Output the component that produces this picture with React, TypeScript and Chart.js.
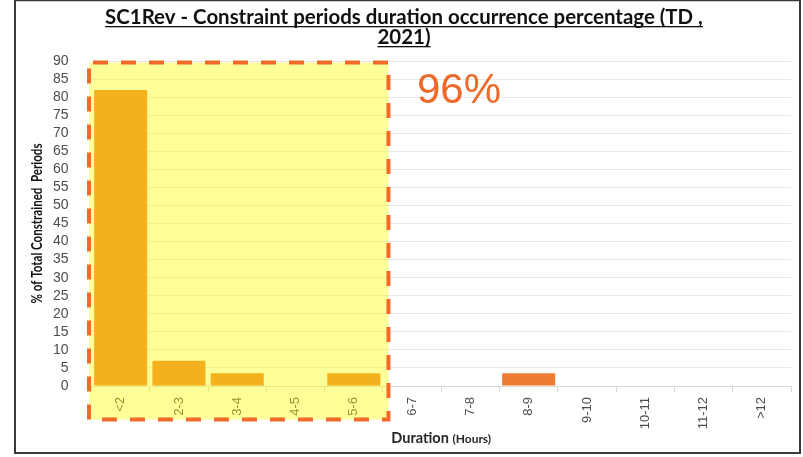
import React, { useEffect, useRef } from "react";
import { Chart, registerables } from "chart.js";

Chart.register(...registerables);

const categories = ["<2", "2-3", "3-4", "4-5", "5-6", "6-7", "7-8", "8-9", "9-10", "10-11", "11-12", ">12"];
const occurrencePct = [82, 7, 3.5, 0, 3.5, 0, 0, 3.5, 0, 0, 0, 0];
const yTicks = [0, 90, 5];
const titleLines = ["SC1Rev - Constraint periods duration occurrence percentage (TD ,", "2021)"];
const yTitle = "% of Total Constrained  Periods";
const xTitleMain = "Duration ";
const xTitleUnit = "(Hours)";
const highlightLabel = "96%";
const highlightCount = 5;

function fitFont(ctx: CanvasRenderingContext2D, text: string, family: string, weight: string, width: number) {
  ctx.font = `${weight} 100px ${family}`;
  const w = ctx.measureText(text).width;
  return (100 * width) / w;
}

const overlayPlugin = {
  id: "overlay",
  afterDraw(chart: any) {
    const ctx: CanvasRenderingContext2D = chart.ctx;
    const xs = chart.scales.x;
    const ca = chart.chartArea;
    ctx.save();
    // frame
    ctx.strokeStyle = "#3a3a3a";
    ctx.lineWidth = 2;
    ctx.beginPath();
    ctx.moveTo(15, 0);
    ctx.lineTo(15, 453);
    ctx.lineTo(800, 453);
    ctx.lineTo(800, 0);
    ctx.stroke();
    ctx.lineWidth = 1.5;
    ctx.beginPath();
    ctx.moveTo(15, 0.5);
    ctx.lineTo(800, 0.5);
    ctx.stroke();

    // title
    const fam = "Lato, 'Open Sans', sans-serif";
    const fs = fitFont(ctx, titleLines[0], fam, "bold", 598);
    ctx.font = `bold ${fs}px ${fam}`;
    ctx.fillStyle = "#111";
    ctx.textAlign = "center";
    ctx.textBaseline = "alphabetic";
    const cx = 404;
    const bases = [24, 44];
    titleLines.forEach((t, i) => {
      ctx.fillText(t, cx, bases[i]);
      const w = ctx.measureText(t).width;
      ctx.fillRect(cx - w / 2, bases[i] + 2, w, 1.3);
    });

    // y title
    ctx.save();
    ctx.translate(37, (ca.top + ca.bottom) / 2);
    ctx.rotate(-Math.PI / 2);
    ctx.font = `bold 15px ${fam}`;
    const tw = ctx.measureText(yTitle).width;
    ctx.scale(160 / tw, 1);
    ctx.textBaseline = "middle";
    ctx.textAlign = "center";
    ctx.fillStyle = "#111";
    ctx.fillText(yTitle, 0, 0);
    ctx.restore();

    // x title
    ctx.textBaseline = "alphabetic";
    ctx.textAlign = "left";
    ctx.font = `bold 14.5px ${fam}`;
    const w1 = ctx.measureText(xTitleMain).width;
    ctx.font = `bold 12px ${fam}`;
    const w2 = ctx.measureText(xTitleUnit).width;
    const sx = (ca.left + ca.right) / 2 - (w1 + w2) / 2;
    ctx.fillStyle = "#262626";
    ctx.font = `bold 14.5px ${fam}`;
    ctx.fillText(xTitleMain, sx, 443);
    ctx.font = `bold 12px ${fam}`;
    ctx.fillText(xTitleUnit, sx + w1, 443);

    // highlight box
    const left = ca.left - 2.5;
    const right = xs.getPixelForValue(highlightCount - 1) + (xs.getPixelForValue(1) - xs.getPixelForValue(0)) / 2 + 5.5;
    const top = ca.top + 1.5;
    const bottom = 419.5;
    ctx.fillStyle = "rgba(255,255,0,0.4)";
    ctx.fillRect(left, top, right - left, bottom - top);
    ctx.strokeStyle = "#F2692A";
    ctx.lineWidth = 4;
    ctx.setLineDash([15, 13]);
    ctx.lineDashOffset = -4;
    ctx.strokeRect(left, top, right - left, bottom - top);
    ctx.setLineDash([]);

    // 96%
    ctx.fillStyle = "#EE6A2A";
    ctx.font = `42px 'Liberation Sans', Arial, sans-serif`;
    ctx.textAlign = "left";
    ctx.fillText(highlightLabel, 417, 103);
    ctx.restore();
  },
};

export default function App() {
  const ref = useRef<HTMLCanvasElement>(null);
  useEffect(() => {
    document.body.style.margin = "0";
    const chart = new Chart(ref.current!, {
      type: "bar",
      data: {
        labels: categories,
        datasets: [
          {
            data: occurrencePct,
            backgroundColor: "#ED7D31",
            barPercentage: 0.91,
            categoryPercentage: 1,
          },
        ],
      },
      options: {
        responsive: false,
        animation: false,
        layout: { padding: { top: 61, left: 0, right: 12, bottom: 0 } },
        plugins: { legend: { display: false }, tooltip: { enabled: false }, title: { display: false } },
        scales: {
          x: {
            afterFit: (s: any) => {
              s.height = 71;
            },
            grid: { drawOnChartArea: false, drawTicks: true, tickLength: 6, color: "#d9d9d9", offset: true },
            border: { color: "#d9d9d9" },
            ticks: {
              minRotation: 90,
              maxRotation: 90,
              padding: 5,
              color: "#4d4d4d",
              font: { family: "'Liberation Sans', Arial, sans-serif", size: 13 },
              autoSkip: false,
            },
          },
          y: {
            min: yTicks[0],
            max: yTicks[1],
            afterFit: (s: any) => {
              s.width = 91.5;
            },
            grid: { color: "#e8e8e8", drawTicks: false },
            border: { display: false },
            ticks: {
              stepSize: yTicks[2],
              autoSkip: false,
              padding: 23,
              color: "#4d4d4d",
              font: { family: "'Liberation Sans', Arial, sans-serif", size: 14 },
            },
          },
        },
      },
      plugins: [overlayPlugin],
    });
    return () => chart.destroy();
  }, []);
  return (
    <div style={{ position: "absolute", left: 0, top: 0, width: 803, height: 457, background: "#fff" }}>
      <canvas ref={ref} width={803} height={457} style={{ display: "block" }} />
    </div>
  );
}
